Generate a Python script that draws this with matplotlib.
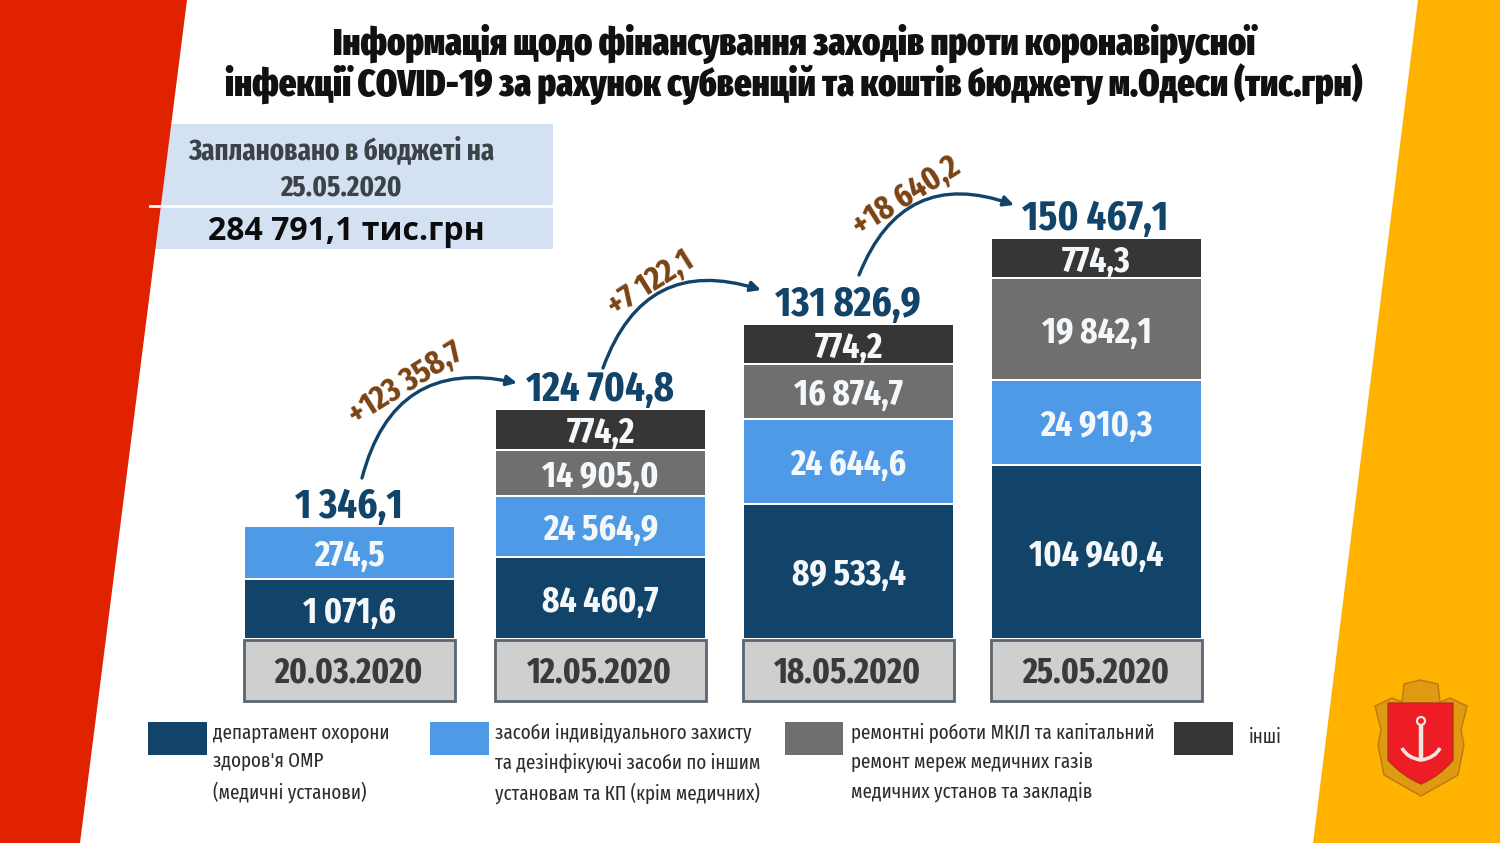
import matplotlib
matplotlib.use('Agg')
import matplotlib.pyplot as plt
from matplotlib.patches import Polygon, Rectangle, FancyArrowPatch, Circle, PathPatch
from matplotlib.path import Path

plt.rcParams['font.family'] = ['Fira Sans Extra Condensed', 'Open Sans', 'DejaVu Sans']

dates = ['20.03.2020', '12.05.2020', '18.05.2020', '25.05.2020']
totals = [1346.1, 124704.8, 131826.9, 150467.1]
health_dept = [1071.6, 84460.7, 89533.4, 104940.4]
protection = [274.5, 24564.9, 24644.6, 24910.3]
repairs = [None, 14905.0, 16874.7, 19842.1]
other = [None, 774.2, 774.2, 774.3]
increases = ['+123 358,7', '+7 122,1', '+18 640,2']
planned_total = '284 791,1 тис.грн'

legend_labels = [
    "департамент охорони\nздоров'я ОМР\n(медичні установи)",
    'засоби індивідуального захисту\nта дезінфікуючі засоби по іншим\nустановам та КП (крім медичних)',
    'ремонтні роботи МКІЛ та капітальний\nремонт мереж медичних газів\nмедичних установ та закладів',
    'інші',
]

# the poster's bars are not to scale, so drawn heights are kept apart (px)
health_h = [58, 80, 133, 172]
protection_h = [51, 59, 83, 83]
repairs_h = [0, 44, 53, 100]
other_h = [0, 39, 38, 38]

bar_left = [245, 496, 744, 992]
BAR_W = 209
BASE_PX = 638
GAP = 2

DARK = '#12446a'
BLUE = '#4f9ae6'
GREY = '#6f6f6f'
BLACK = '#363636'
RED = '#e02200'
ORANGE = '#ffb300'


def fmt(v):
    whole, dec = f'{v:.1f}'.split('.')
    whole = f'{int(whole):,}'.replace(',', ' ')
    return f'{whole},{dec}'


def y(px):
    return 843 - px


fig = plt.figure(figsize=(15, 8.43), dpi=100)
ax = fig.add_axes([0, 0, 1, 1])
ax.set_xlim(0, 1500)
ax.set_ylim(0, 843)
ax.axis('off')

# planned budget box goes under the red band
ax.add_patch(Rectangle((150, y(249)), 403, 125, color='#d4e1f2', lw=0))
ax.plot([150, 553], [y(206), y(206)], color='white', lw=2)
ax.add_patch(Polygon([(0, 843), (187, 843), (80, 0), (0, 0)], color=RED, lw=0))
ax.add_patch(Polygon([(1418, 843), (1500, 843), (1500, 0), (1313, 0)], color=ORANGE, lw=0))

ax.text(341, y(148), 'Заплановано в бюджеті на', ha='center', va='center_baseline',
        fontsize=21, fontweight='bold', color='#3b4248')
ax.text(341, y(185), '25.05.2020', ha='center', va='center_baseline',
        fontsize=21, fontweight='bold', color='#3b4248')
ax.text(346, y(227), planned_total, ha='center', va='center_baseline',
        fontsize=23, fontweight='bold', color='#0c0c0c', family=['Open Sans', 'DejaVu Sans'])

# title
ax.text(794, y(39), 'Інформація щодо фінансування заходів проти коронавірусної',
        ha='center', va='center_baseline', fontsize=26.6, fontweight=900, color='#111111')
ax.text(794, y(80), 'інфекції COVID-19 за рахунок субвенцій та коштів бюджету м.Одеси (тис.грн)',
        ha='center', va='center_baseline', fontsize=26.6, fontweight=900, color='#111111')

# stacked bars
series = [(health_dept, health_h, DARK), (protection, protection_h, BLUE),
          (repairs, repairs_h, GREY), (other, other_h, BLACK)]
bottoms = [y(BASE_PX)] * 4
for values, heights, colour in series:
    for i, (val, h) in enumerate(zip(values, heights)):
        if val is None:
            continue
        ax.bar(bar_left[i], h, width=BAR_W, bottom=bottoms[i], align='edge', color=colour, lw=0)
        ax.text(bar_left[i] + BAR_W / 2, bottoms[i] + h / 2, fmt(val), ha='center', va='center_baseline',
                fontsize=26, fontweight='bold', color='#f4f8fb')
        bottoms[i] += h + GAP

for i, d in enumerate(dates):
    ax.add_patch(Rectangle((bar_left[i] - 1, y(701)), BAR_W + 2, 61, facecolor='#cfcfcf',
                           edgecolor='#5b6670', lw=2))
    ax.text(bar_left[i] + BAR_W / 2 - 1, y(669), d, ha='center', va='center_baseline',
            fontsize=25.5, fontweight='bold', color='#3a3a3a')
    ax.text(bar_left[i] + BAR_W / 2 - 1, bottoms[i] + 23, fmt(totals[i]), ha='center', va='center_baseline',
            fontsize=30, fontweight='bold', color=DARK)

# growth arrows
arrows = [((362, 478), (517, 383)), ((603, 368), (761, 290)), ((859, 275), (1014, 205))]
arrow_text = [(404, 380), (649, 280), (904, 193)]
for (start, end), label, pos in zip(arrows, increases, arrow_text):
    ax.add_patch(FancyArrowPatch((start[0], y(start[1])), (end[0], y(end[1])),
                                 connectionstyle='arc3,rad=-0.48', arrowstyle='-|>',
                                 mutation_scale=15, lw=2.4, color=DARK, shrinkA=0, shrinkB=0))
    ax.text(pos[0], y(pos[1]), label, ha='center', va='center_baseline', rotation=32,
            rotation_mode='anchor', fontsize=24, fontweight='bold', color='#7b4212')

# legend
legend_x = [148, 430, 785, 1174]
legend_w = [59, 59, 58, 59]
legend_text_x = [213, 495, 851, 1249]
legend_text_y = [723, 723, 723, 727]
legend_colours = [DARK, BLUE, GREY, BLACK]
for lx, lw_, tx, ty, col, lab in zip(legend_x, legend_w, legend_text_x, legend_text_y, legend_colours, legend_labels):
    ax.add_patch(Rectangle((lx, y(755)), lw_, 33, color=col, lw=0))
    ax.text(tx, y(ty), lab, ha='left', va='top', fontsize=14.8, color='#2c2c2c', linespacing=1.57)

# Odesa coat of arms, simplified
gold = '#e09a12'
ax.add_patch(Polygon([(1375, y(706)), (1392, y(698)), (1402, y(702)), (1404, y(684)), (1420, y(680)),
                      (1438, y(684)), (1440, y(702)), (1450, y(698)), (1467, y(706)), (1461, y(730)),
                      (1464, y(745)), (1458, y(775)), (1421, y(796)), (1384, y(775)), (1378, y(745)),
                      (1381, y(730))], facecolor=gold, edgecolor='#b87a10', lw=1))
shield = Path([(1388, y(703)), (1453, y(703)), (1453, y(760)), (1440, y(776)), (1421, y(784)),
               (1402, y(776)), (1388, y(760)), (1388, y(703))],
              [Path.MOVETO, Path.LINETO, Path.LINETO, Path.CURVE3, Path.CURVE3, Path.CURVE3,
               Path.CURVE3, Path.CLOSEPOLY])
ax.add_patch(PathPatch(shield, facecolor='#ee1c25', edgecolor='#b8321a', lw=1))
ax.add_patch(Circle((1421, y(721)), 4, facecolor='none', edgecolor='#f1e6e0', lw=1.6))
ax.plot([1421, 1421], [y(726), y(758)], color='#f1e6e0', lw=3.2, solid_capstyle='round')
fluke = Path([(1402, y(748)), (1407, y(758)), (1421, y(760)), (1435, y(758)), (1440, y(748))],
             [Path.MOVETO, Path.CURVE3, Path.CURVE3, Path.CURVE3, Path.CURVE3])
ax.add_patch(PathPatch(fluke, facecolor='none', edgecolor='#f1e6e0', lw=2.6))

fig.savefig('out.png', dpi=100)
